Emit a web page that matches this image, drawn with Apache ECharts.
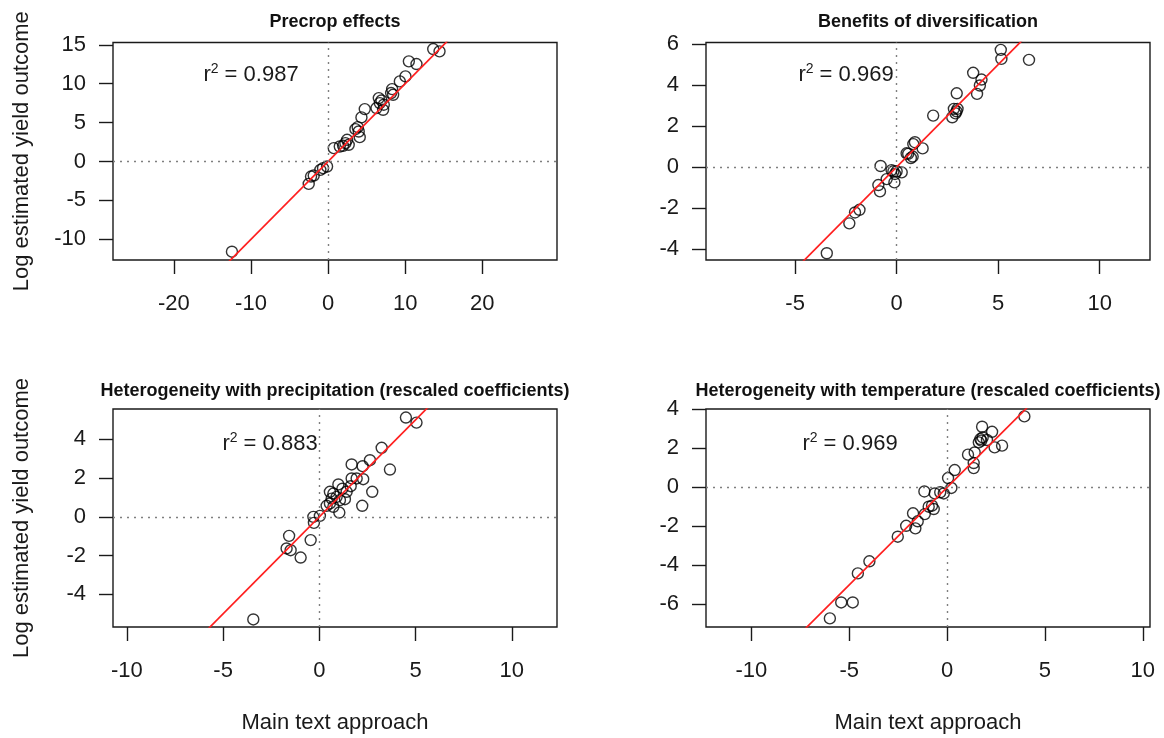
<!DOCTYPE html>
<html>
<head>
<meta charset="utf-8">
<script src="https://cdn.jsdelivr.net/npm/echarts@6/dist/echarts.min.js"></script>
<style>
  html, body { margin: 0; padding: 0; background: #ffffff; }
  #chart { width: 1164px; height: 738px; }
</style>
</head>
<body>
<div id="chart"></div>
<script>
// ---- Data: [main text approach, log estimated yield outcome] per panel ----
const precropPoints = [
  [-12.47, -11.59], [-2.51, -2.88], [-2.21, -1.93], [-1.86, -1.80], [-1.00, -1.07],
  [-0.65, -0.86], [-0.13, -0.64], [0.74, 1.72], [1.52, 1.93], [1.95, 2.02],
  [2.25, 2.36], [2.47, 2.79], [2.68, 2.15], [3.55, 4.16], [3.85, 4.42],
  [4.11, 3.13], [3.98, 3.86], [4.33, 5.67], [4.76, 6.74], [6.28, 6.87],
  [6.71, 7.51], [6.93, 7.85], [7.14, 6.65], [6.58, 8.15], [7.23, 7.30],
  [8.31, 9.31], [8.44, 8.58], [8.18, 8.80], [9.31, 10.30], [10.04, 10.94],
  [10.48, 12.88], [11.47, 12.53], [13.64, 14.46], [14.46, 14.16]
];
const diversificationPoints = [
  [5.13, 5.72], [5.16, 5.28], [6.52, 5.23], [3.77, 4.60], [4.18, 4.27],
  [4.10, 3.98], [3.96, 3.57], [2.96, 3.60], [1.80, 2.51], [2.74, 2.43],
  [2.90, 2.62], [3.00, 2.84], [2.82, 2.84], [2.95, 2.72], [0.90, 1.21],
  [0.82, 1.12], [1.28, 0.91], [0.57, 0.64], [0.79, 0.51], [0.70, 0.44],
  [0.49, 0.67], [-0.79, 0.05], [-0.16, -0.21], [0.00, -0.21], [0.25, -0.26],
  [-0.08, -0.34], [-0.11, -0.75], [-0.49, -0.59], [-0.90, -0.88], [-0.82, -1.19],
  [-1.83, -2.09], [-2.05, -2.22], [-2.33, -2.75], [-3.44, -4.21], [-0.25, -0.15]
];
const precipitationPoints = [
  [4.50, 5.12], [5.05, 4.86], [3.24, 3.56], [2.63, 2.92], [3.67, 2.44],
  [1.68, 2.70], [2.25, 2.61], [1.68, 1.98], [2.28, 1.94], [1.94, 1.98],
  [0.99, 1.67], [1.63, 1.58], [2.75, 1.29], [0.55, 1.29], [0.73, 1.20],
  [1.42, 1.29], [1.33, 0.91], [0.90, 1.03], [1.07, 0.86], [0.55, 0.69],
  [0.38, 0.57], [0.73, 0.52], [1.04, 0.22], [2.23, 0.57], [0.03, 0.05],
  [-0.31, 0.00], [-0.28, -0.31], [-0.45, -1.20], [-1.57, -0.98], [-1.70, -1.63],
  [-1.49, -1.72], [-0.97, -2.10], [-3.43, -5.29], [0.64, 0.94], [1.20, 1.45]
];
const temperaturePoints = [
  [3.95, 3.64], [1.79, 3.11], [2.30, 2.85], [1.70, 2.48], [1.82, 2.56],
  [1.62, 2.31], [2.04, 2.43], [2.43, 2.05], [2.81, 2.14], [1.07, 1.68],
  [1.41, 1.79], [1.36, 1.25], [1.36, 0.99], [0.39, 0.89], [0.05, 0.48],
  [0.22, -0.03], [-0.17, -0.31], [-0.63, -0.31], [-1.16, -0.21], [-0.94, -0.99],
  [-0.68, -1.11], [-0.77, -0.94], [-1.14, -1.37], [-1.50, -1.74], [-1.74, -1.33],
  [-1.62, -2.10], [-2.09, -1.97], [-2.52, -2.53], [-3.97, -3.79], [-4.56, -4.41],
  [-5.41, -5.90], [-4.82, -5.90], [-5.99, -6.72], [-0.35, -0.25], [1.75, 2.40]
];

const panelTitles = [
  'Precrop effects',
  'Benefits of diversification',
  'Heterogeneity with precipitation (rescaled coefficients)',
  'Heterogeneity with temperature (rescaled coefficients)'
];
const r2Values = ['0.987', '0.969', '0.883', '0.969'];

// Axis limits and tick values
const xLimits = [[-27.9, 29.7], [-9.39, 12.48], [-10.72, 12.35], [-12.32, 10.37]];
const yLimits = [[-12.66, 15.3], [-4.54, 6.08], [-5.68, 5.56], [-7.16, 4.02]];
const xTicks = [[-20, -10, 0, 10, 20], [-5, 0, 5, 10], [-10, -5, 0, 5, 10], [-10, -5, 0, 5, 10]];
const yTicks = [[-10, -5, 0, 5, 10, 15], [-4, -2, 0, 2, 4, 6], [-4, -2, 0, 2, 4], [-6, -4, -2, 0, 2, 4]];

const xAxisTitle = 'Main text approach';
const yAxisTitle = 'Log estimated yield outcome';

// ---- Layout ----
const FONT = '"Liberation Sans", Arial, Helvetica, sans-serif';
const INK = '#1a1a1a';
const boxes = [
  { left: 113, top: 42.5, width: 444, height: 217.5 },
  { left: 706, top: 42.5, width: 444, height: 217.5 },
  { left: 113, top: 409, width: 444, height: 218 },
  { left: 706, top: 409, width: 444, height: 218 }
];
const titleY = [22.5, 22.5, 391, 391];
const r2Pos = [[251, 75], [846, 75], [270, 444], [850, 444]];
const pointSets = [precropPoints, diversificationPoints, precipitationPoints, temperaturePoints];

const grids = [], xAxes = [], yAxes = [], series = [], graphics = [];

boxes.forEach(function (b, i) {
  const isLeft = (i % 2 === 0);
  const isBottom = (i >= 2);
  grids.push({
    left: b.left, top: b.top, width: b.width, height: b.height,
    outerBoundsMode: 'none', containLabel: false,
    show: true, borderColor: INK, borderWidth: 1.4, backgroundColor: 'transparent'
  });
  xAxes.push({
    type: 'value', gridIndex: i, min: xLimits[i][0], max: xLimits[i][1],
    axisLine: { show: false, onZero: false },
    splitLine: { show: false },
    axisTick: { show: true, length: 14, customValues: xTicks[i], lineStyle: { color: INK, width: 1.4 } },
    axisLabel: { customValues: xTicks[i], margin: 33, fontSize: 22, lineHeight: 22, color: INK, fontFamily: FONT },
    name: isBottom ? xAxisTitle : '',
    nameLocation: 'middle', nameGap: 85,
    nameTextStyle: { fontSize: 22, lineHeight: 22, color: INK, fontFamily: FONT }
  });
  yAxes.push({
    type: 'value', gridIndex: i, min: yLimits[i][0], max: yLimits[i][1],
    axisLine: { show: false, onZero: false },
    splitLine: { show: false },
    axisTick: { show: true, length: 14, customValues: yTicks[i], lineStyle: { color: INK, width: 1.4 } },
    axisLabel: { customValues: yTicks[i], margin: 27, fontSize: 22, color: INK, fontFamily: FONT },
    name: isLeft ? yAxisTitle : '',
    nameLocation: 'middle', nameGap: 80, nameRotate: 90,
    nameTextStyle: { fontSize: 22, lineHeight: 22, color: INK, fontFamily: FONT }
  });

  // open-circle points with dotted zero reference lines
  series.push({
    type: 'scatter', xAxisIndex: i, yAxisIndex: i,
    data: pointSets[i],
    symbol: 'circle', symbolSize: 11,
    itemStyle: { color: 'rgba(0,0,0,0)', borderColor: '#000', borderWidth: 1.4 },
    z: 3,
    markLine: {
      silent: true, symbol: 'none', animation: false,
      label: { show: false },
      lineStyle: { color: '#7f7f7f', type: [2, 5], width: 1.4 },
      data: [{ xAxis: 0 }, { yAxis: 0 }]
    }
  });

  // 1:1 reference line across the panel
  const lo = Math.min(xLimits[i][0], yLimits[i][0]);
  const hi = Math.max(xLimits[i][1], yLimits[i][1]);
  series.push({
    type: 'line', xAxisIndex: i, yAxisIndex: i,
    data: [[lo, lo], [hi, hi]],
    showSymbol: false, clip: true, silent: true, z: 4,
    lineStyle: { color: '#ff1f1f', width: 1.7 }
  });

  // panel title
  graphics.push({
    type: 'text', x: b.left + b.width / 2, y: titleY[i], silent: true,
    style: {
      text: panelTitles[i], fill: '#111', font: 'bold 18px ' + FONT,
      textAlign: 'center', textVerticalAlign: 'middle', align: 'center', verticalAlign: 'middle'
    }
  });
  // r-squared annotation with a raised exponent
  graphics.push({
    type: 'text', x: r2Pos[i][0], y: r2Pos[i][1], silent: true,
    style: {
      text: '{b|r}{s|2}{b| = ' + r2Values[i] + '}',
      textAlign: 'center', textVerticalAlign: 'middle', align: 'center', verticalAlign: 'middle',
      rich: {
        b: { fontSize: 22, lineHeight: 26, fontFamily: FONT, fill: INK, color: INK },
        s: { fontSize: 14, lineHeight: 14, fontFamily: FONT, fill: INK, color: INK, verticalAlign: 'top' }
      }
    }
  });
});

const chart = echarts.init(document.getElementById('chart'), null, { renderer: 'canvas' });
chart.setOption({
  animation: false,
  backgroundColor: '#ffffff',
  grid: grids,
  xAxis: xAxes,
  yAxis: yAxes,
  series: series,
  graphic: graphics
});
</script>
</body>
</html>
